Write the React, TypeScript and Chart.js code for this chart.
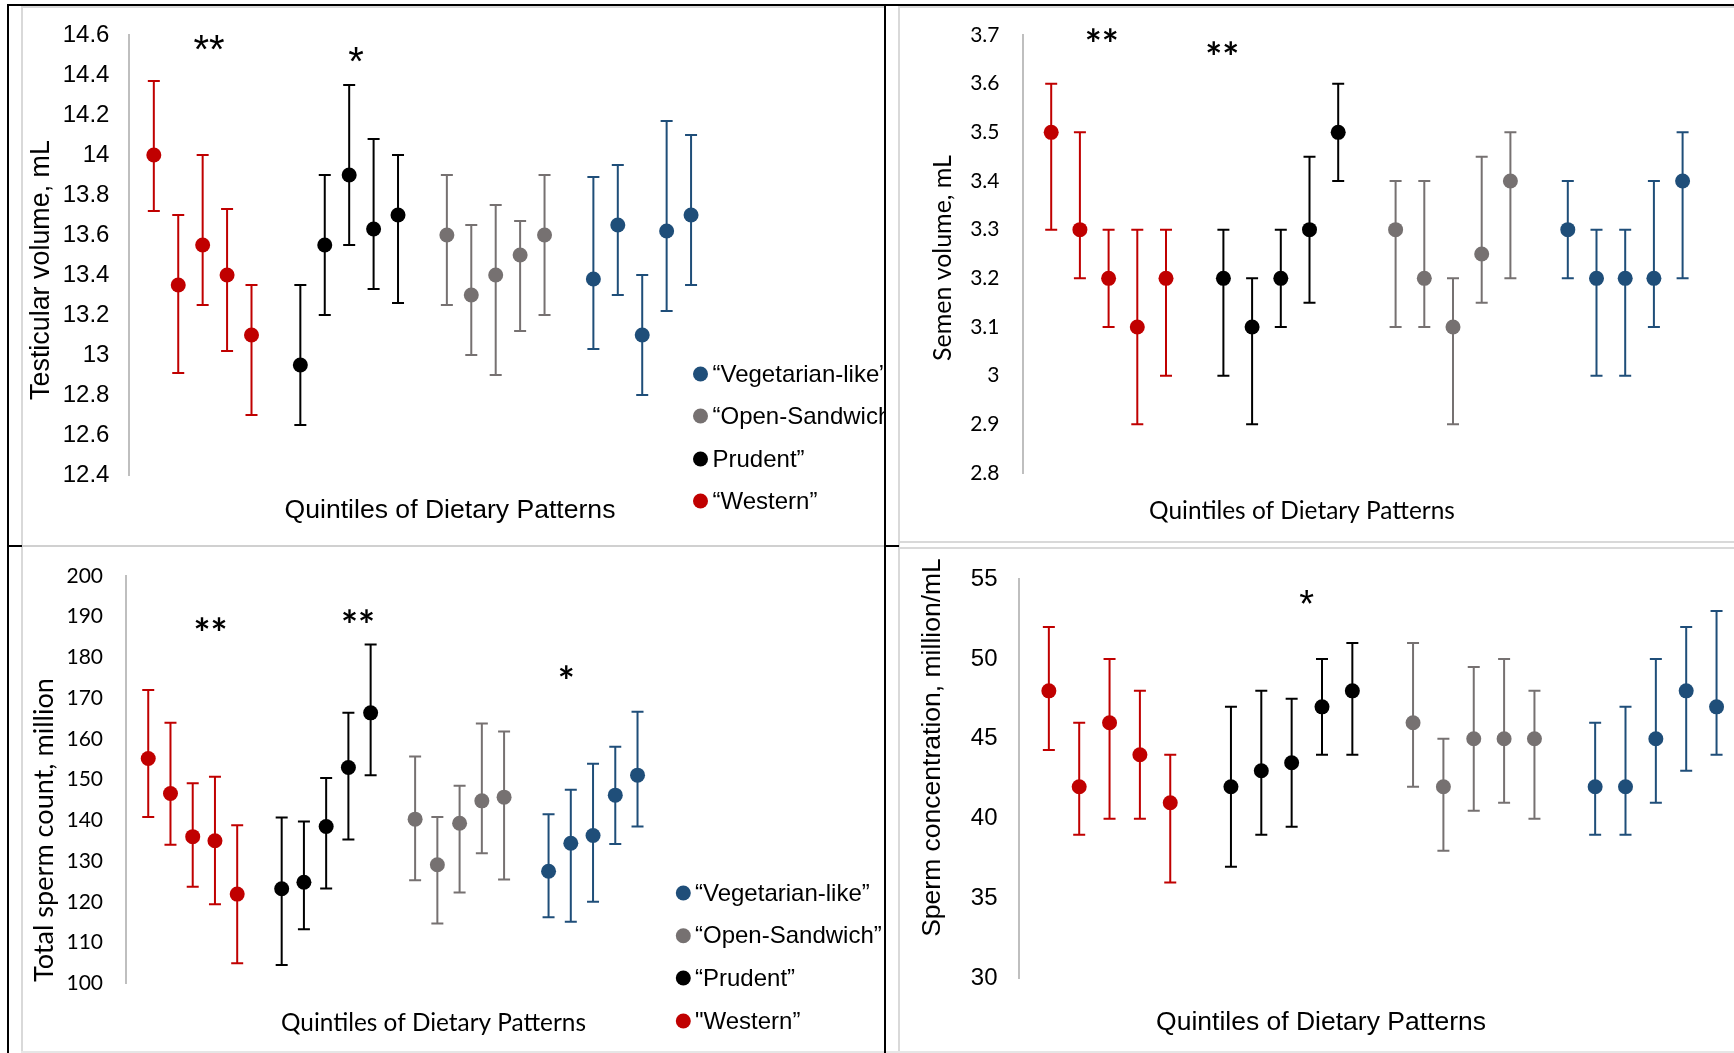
import React, { useEffect, useRef } from 'react';
import { Chart, registerables } from 'chart.js';

Chart.register(...registerables);

const RED = '#C00000';
const BLACK = '#000000';
const GRAY = '#767171';
const BLUE = '#1F4E79';

const ARIAL = '"Liberation Sans", Arial, sans-serif';
const CALIBRI = 'Lato, "Liberation Sans", sans-serif';

// Quintile slots on the x axis (four groups of five)
const westernX = [0, 1, 2, 3, 4];
const prudentX = [6, 7, 8, 9, 10];
const sandwichX = [12, 13, 14, 15, 16];
const vegX = [18, 19, 20, 21, 22];

// ---- Panel A: Testicular volume, mL ----
const testisTicks = [12.4, 12.6, 12.8, 13, 13.2, 13.4, 13.6, 13.8, 14, 14.2, 14.4, 14.6];
const testisWesternMean = [14.0, 13.35, 13.55, 13.4, 13.1];
const testisWesternLow = [13.72, 12.91, 13.25, 13.02, 12.7];
const testisWesternHigh = [14.37, 13.7, 14.0, 13.73, 13.35];
const testisPrudentMean = [12.95, 13.55, 13.9, 13.63, 13.7];
const testisPrudentLow = [12.65, 13.2, 13.55, 13.33, 13.26];
const testisPrudentHigh = [13.35, 13.9, 14.35, 14.08, 14.0];
const testisSandwichMean = [13.6, 13.3, 13.4, 13.5, 13.6];
const testisSandwichLow = [13.25, 13.0, 12.9, 13.12, 13.2];
const testisSandwichHigh = [13.9, 13.65, 13.75, 13.67, 13.9];
const testisVegMean = [13.38, 13.65, 13.1, 13.62, 13.7];
const testisVegLow = [13.03, 13.3, 12.8, 13.22, 13.35];
const testisVegHigh = [13.89, 13.95, 13.4, 14.17, 14.1];
const testisStars = [
  { text: '**', x: 2.26, y: 14.552 },
  { text: '*', x: 8.28, y: 14.493 },
];

// ---- Panel B: Semen volume, mL ----
const semenTicks = [2.8, 2.9, 3, 3.1, 3.2, 3.3, 3.4, 3.5, 3.6, 3.7];
const semenWesternMean = [3.5, 3.3, 3.2, 3.1, 3.2];
const semenWesternLow = [3.3, 3.2, 3.1, 2.9, 3.0];
const semenWesternHigh = [3.6, 3.5, 3.3, 3.3, 3.3];
const semenPrudentMean = [3.2, 3.1, 3.2, 3.3, 3.5];
const semenPrudentLow = [3.0, 2.9, 3.1, 3.15, 3.4];
const semenPrudentHigh = [3.3, 3.2, 3.3, 3.45, 3.6];
const semenSandwichMean = [3.3, 3.2, 3.1, 3.25, 3.4];
const semenSandwichLow = [3.1, 3.1, 2.9, 3.15, 3.2];
const semenSandwichHigh = [3.4, 3.4, 3.2, 3.45, 3.5];
const semenVegMean = [3.3, 3.2, 3.2, 3.2, 3.4];
const semenVegLow = [3.2, 3.0, 3.0, 3.1, 3.2];
const semenVegHigh = [3.4, 3.3, 3.3, 3.4, 3.5];
const semenStars = [
  { text: '**', x: 1.76, y: 3.698 },
  { text: '**', x: 5.96, y: 3.672 },
];

// ---- Panel C: Total sperm count, million ----
const countTicks = [100, 110, 120, 130, 140, 150, 160, 170, 180, 190, 200];
const countWesternMean = [155.2, 146.6, 136, 135, 121.9];
const countWesternLow = [140.8, 134, 123.7, 119.4, 104.9];
const countWesternHigh = [172, 164, 149.1, 150.7, 138.8];
const countPrudentMean = [123.2, 124.8, 138.5, 153, 166.4];
const countPrudentLow = [104.5, 113.3, 123.3, 135.3, 151.1];
const countPrudentHigh = [140.7, 139.7, 150.4, 166.4, 183.2];
const countSandwichMean = [140.3, 129.1, 139.3, 144.8, 145.7];
const countSandwichLow = [125.3, 114.7, 122.3, 131.9, 125.5];
const countSandwichHigh = [155.7, 140.8, 148.5, 163.8, 161.8];
const countVegMean = [127.5, 134.4, 136.3, 146.2, 151.1];
const countVegLow = [116.2, 115.1, 120, 134.2, 138.5];
const countVegHigh = [141.5, 147.5, 153.9, 158.1, 166.7];
const countStars = [
  { text: '**', x: 2.8, y: 188 },
  { text: '**', x: 9.43, y: 190 },
  { text: '*', x: 18.8, y: 176.3 },
];

// ---- Panel D: Sperm concentration, million/mL ----
const concTicks = [30, 35, 40, 45, 50, 55];
const concWesternMean = [48, 42, 46, 44, 41];
const concWesternLow = [44.3, 39, 40, 40, 36];
const concWesternHigh = [52, 46, 50, 48, 44];
const concPrudentMean = [42, 43, 43.5, 47, 48];
const concPrudentLow = [37, 39, 39.5, 44, 44];
const concPrudentHigh = [47, 48, 47.5, 50, 51];
const concSandwichMean = [46, 42, 45, 45, 45];
const concSandwichLow = [42, 38, 40.5, 41, 40];
const concSandwichHigh = [51, 45, 49.5, 50, 48];
const concVegMean = [42, 42, 45, 48, 47];
const concVegLow = [39, 39, 41, 43, 44];
const concVegHigh = [46, 47, 50, 52, 53];
const concStars = [{ text: '*', x: 8.49, y: 53.81 }];

// Legend labels (top to bottom)
const legendLabelsA = ['“Vegetarian-like”', '“Open-Sandwich”', 'Prudent”', '“Western”'];
const legendLabelsC = ['“Vegetarian-like”', '“Open-Sandwich”', '“Prudent”', '"Western”'];
const legendColors = [BLUE, GRAY, BLACK, RED];

const xTitle = 'Quintiles of Dietary Patterns';

type Series = { label: string; color: string; x: number[]; mean: number[]; low: number[]; high: number[] };

function makeSeries(
  w: number[][], p: number[][], s: number[][], v: number[][]
): Series[] {
  return [
    { label: 'Western', color: RED, x: westernX, mean: w[0], low: w[1], high: w[2] },
    { label: 'Prudent', color: BLACK, x: prudentX, mean: p[0], low: p[1], high: p[2] },
    { label: 'Open-Sandwich', color: GRAY, x: sandwichX, mean: s[0], low: s[1], high: s[2] },
    { label: 'Vegetarian-like', color: BLUE, x: vegX, mean: v[0], low: v[1], high: v[2] },
  ];
}

type PanelSpec = {
  left: number; top: number; w: number; h: number;
  axisX: number; spacing: number; xMax: number; areaTop: number; areaBottom: number;
  ticks: number[]; tickFont: string; tickSize: number; tickPad: number;
  series: Series[];
  stars: { text: string; x: number; y: number }[]; starFont: string; starSize: number; starLift: number;
  yTitle: { text: string; x: number; y: number; width: number; family: string };
  xTitleSpec: { x: number; y: number; width: number; family: string };
  legend?: { labels: string[]; mx: number; tx: number; ys: number[]; size: number };
};

const panels: PanelSpec[] = [
  {
    left: 22, top: 7, w: 862, h: 538,
    axisX: 107.4, spacing: 24.42, xMax: 24, areaTop: 28, areaBottom: 468,
    ticks: testisTicks, tickFont: ARIAL, tickSize: 24, tickPad: 20,
    series: makeSeries(
      [testisWesternMean, testisWesternLow, testisWesternHigh],
      [testisPrudentMean, testisPrudentLow, testisPrudentHigh],
      [testisSandwichMean, testisSandwichLow, testisSandwichHigh],
      [testisVegMean, testisVegLow, testisVegHigh]
    ),
    stars: testisStars, starFont: ARIAL, starSize: 40, starLift: 0.47,
    yTitle: { text: 'Testicular volume, mL', x: 20, y: 263, width: 260, family: ARIAL },
    xTitleSpec: { x: 428, y: 504, width: 331, family: ARIAL },
    legend: { labels: legendLabelsA, mx: 678.5, tx: 690.5, ys: [367, 409, 452, 494], size: 24 },
  },
  {
    left: 900, top: 7, w: 834, h: 535,
    axisX: 122.5, spacing: 28.7, xMax: 23, areaTop: 28, areaBottom: 466,
    ticks: semenTicks, tickFont: CALIBRI, tickSize: 21, tickPad: 23,
    series: makeSeries(
      [semenWesternMean, semenWesternLow, semenWesternHigh],
      [semenPrudentMean, semenPrudentLow, semenPrudentHigh],
      [semenSandwichMean, semenSandwichLow, semenSandwichHigh],
      [semenVegMean, semenVegLow, semenVegHigh]
    ),
    stars: semenStars, starFont: 'bold 40px ' + CALIBRI, starSize: 40, starLift: 0.58,
    yTitle: { text: 'Semen volume, mL', x: 43, y: 251, width: 206, family: CALIBRI },
    xTitleSpec: { x: 402, y: 504, width: 306, family: CALIBRI },
  },
  {
    left: 22, top: 547, w: 862, h: 505,
    axisX: 104, spacing: 22.24, xMax: 24, areaTop: 29, areaBottom: 436.3,
    ticks: countTicks, tickFont: CALIBRI, tickSize: 21, tickPad: 23,
    series: makeSeries(
      [countWesternMean, countWesternLow, countWesternHigh],
      [countPrudentMean, countPrudentLow, countPrudentHigh],
      [countSandwichMean, countSandwichLow, countSandwichHigh],
      [countVegMean, countVegLow, countVegHigh]
    ),
    stars: countStars, starFont: 'bold 40px ' + CALIBRI, starSize: 40, starLift: 0.58,
    yTitle: { text: 'Total sperm count, million', x: 22, y: 283, width: 304, family: CALIBRI },
    xTitleSpec: { x: 411.5, y: 476, width: 305, family: CALIBRI },
    legend: { labels: legendLabelsC, mx: 661.3, tx: 673, ys: [346, 388.7, 431, 474], size: 24 },
  },
  {
    left: 900, top: 548, w: 834, h: 504,
    axisX: 118.5, spacing: 30.35, xMax: 22, areaTop: 31, areaBottom: 430.5,
    ticks: concTicks, tickFont: ARIAL, tickSize: 24, tickPad: 21,
    series: makeSeries(
      [concWesternMean, concWesternLow, concWesternHigh],
      [concPrudentMean, concPrudentLow, concPrudentHigh],
      [concSandwichMean, concSandwichLow, concSandwichHigh],
      [concVegMean, concVegLow, concVegHigh]
    ),
    stars: concStars, starFont: ARIAL, starSize: 38, starLift: 0.5,
    yTitle: { text: 'Sperm concentration, million/mL', x: 33, y: 199.5, width: 379, family: ARIAL },
    xTitleSpec: { x: 421, y: 474.7, width: 330, family: ARIAL },
  },
];

function fmtTick(v: number): string {
  return String(Math.round(v * 10) / 10);
}

function drawText(
  ctx: CanvasRenderingContext2D, text: string, x: number, y: number,
  family: string, size: number, width?: number, rotate?: number
) {
  ctx.save();
  ctx.font = `${size}px ${family}`;
  if (width) {
    const m = ctx.measureText(text).width;
    const s = (size * width) / m;
    ctx.font = `${s}px ${family}`;
  }
  ctx.fillStyle = '#000';
  ctx.textAlign = 'center';
  ctx.textBaseline = 'middle';
  ctx.translate(x, y);
  if (rotate) ctx.rotate(rotate);
  ctx.fillText(text, 0, 0);
  ctx.restore();
}

function buildConfig(spec: PanelSpec): any {
  const areaRight = spec.axisX + (spec.xMax + 1) * spec.spacing;
  const datasets = spec.series.map((s) => ({
    label: s.label,
    data: s.x.map((x, i) => ({ x, y: s.mean[i] })),
    backgroundColor: s.color,
    borderColor: s.color,
    pointBackgroundColor: s.color,
    pointRadius: 7.5,
    pointHoverRadius: 7.5,
    pointBorderWidth: 0,
    showLine: false,
    clip: false,
  }));

  const overlay = {
    id: 'overlay',
    beforeDatasetsDraw(chart: any) {
      const ctx: CanvasRenderingContext2D = chart.ctx;
      const xs = chart.scales.x;
      const ys = chart.scales.y;
      const cap = 6;
      spec.series.forEach((s) => {
        ctx.save();
        ctx.strokeStyle = s.color;
        ctx.lineWidth = 2;
        s.x.forEach((xv, i) => {
          const px = xs.getPixelForValue(xv);
          const pl = ys.getPixelForValue(s.low[i]);
          const ph = ys.getPixelForValue(s.high[i]);
          ctx.beginPath();
          ctx.moveTo(px, pl);
          ctx.lineTo(px, ph);
          ctx.moveTo(px - cap, pl);
          ctx.lineTo(px + cap, pl);
          ctx.moveTo(px - cap, ph);
          ctx.lineTo(px + cap, ph);
          ctx.stroke();
        });
        ctx.restore();
      });
    },
    afterDraw(chart: any) {
      const ctx: CanvasRenderingContext2D = chart.ctx;
      const xs = chart.scales.x;
      const ys = chart.scales.y;
      // axis titles
      drawText(ctx, spec.yTitle.text, spec.yTitle.x, spec.yTitle.y, spec.yTitle.family, 26, spec.yTitle.width, -Math.PI / 2);
      drawText(ctx, xTitle, spec.xTitleSpec.x, spec.xTitleSpec.y, spec.xTitleSpec.family, 26, spec.xTitleSpec.width);
      // significance stars
      spec.stars.forEach((st) => {
        ctx.save();
        ctx.font = spec.starFont.startsWith('bold') ? spec.starFont : `${spec.starSize}px ${spec.starFont}`;
        ctx.fillStyle = '#000';
        ctx.textAlign = 'center';
        ctx.textBaseline = 'alphabetic';
        const px = xs.getPixelForValue(st.x);
        const py = ys.getPixelForValue(st.y);
        ctx.fillText(st.text, px, py + spec.starLift * spec.starSize);
        ctx.restore();
      });
      // legend
      if (spec.legend) {
        const lg = spec.legend;
        lg.labels.forEach((lab, i) => {
          ctx.save();
          ctx.fillStyle = legendColors[i];
          ctx.beginPath();
          ctx.arc(lg.mx, lg.ys[i], 7.5, 0, Math.PI * 2);
          ctx.fill();
          ctx.fillStyle = '#000';
          ctx.font = `${lg.size}px ${ARIAL}`;
          ctx.textAlign = 'left';
          ctx.textBaseline = 'middle';
          ctx.fillText(lab, lg.tx, lg.ys[i] + 1);
          ctx.restore();
        });
      }
    },
  };

  return {
    type: 'scatter',
    data: { datasets },
    options: {
      responsive: false,
      animation: false,
      devicePixelRatio: 1,
      events: [],
      layout: {
        padding: {
          left: 0,
          top: spec.areaTop,
          right: spec.w - areaRight,
          bottom: spec.h - spec.areaBottom,
        },
      },
      plugins: {
        legend: { display: false },
        tooltip: { enabled: false },
      },
      scales: {
        x: { type: 'linear', min: -1, max: spec.xMax, display: false },
        y: {
          type: 'linear',
          min: spec.ticks[0],
          max: spec.ticks[spec.ticks.length - 1],
          afterBuildTicks: (scale: any) => {
            scale.ticks = spec.ticks.map((v) => ({ value: v }));
          },
          afterFit: (scale: any) => {
            scale.width = spec.axisX;
            scale.paddingTop = 0;
            scale.paddingBottom = 0;
          },
          grid: { display: false, drawTicks: false },
          border: { display: true, color: '#BFBFBF', width: 2 },
          ticks: {
            padding: spec.tickPad,
            color: '#000',
            font: { family: spec.tickFont, size: spec.tickSize },
            callback: (v: any) => fmtTick(Number(v)),
          },
          title: { display: false },
        },
      },
    },
    plugins: [overlay],
  };
}

function Panel({ spec }: { spec: PanelSpec }) {
  const ref = useRef<HTMLCanvasElement>(null);
  useEffect(() => {
    const canvas = ref.current;
    if (!canvas) return;
    const chart = new Chart(canvas, buildConfig(spec));
    return () => chart.destroy();
  }, [spec]);
  return (
    <canvas
      ref={ref}
      width={spec.w}
      height={spec.h}
      style={{ position: 'absolute', left: spec.left, top: spec.top, width: spec.w, height: spec.h }}
    />
  );
}

const frameLines = [
  // light grey inner frames
  { l: 21, t: 6, w: 863, h: 2, c: '#D9D9D9' },
  { l: 21, t: 6, w: 2, h: 1047, c: '#D9D9D9' },
  { l: 898, t: 6, w: 836, h: 2, c: '#D9D9D9' },
  { l: 898, t: 6, w: 2, h: 1047, c: '#D9D9D9' },
  { l: 898, t: 541, w: 836, h: 2, c: '#D9D9D9' },
  { l: 21, t: 545, w: 863, h: 2, c: '#D0D0D0' },
  { l: 898, t: 547, w: 836, h: 2, c: '#D9D9D9' },
  { l: 21, t: 1051, w: 1713, h: 2, c: '#E6E6E6' },
  // black outer frame
  { l: 7, t: 4, w: 1727, h: 2, c: '#000' },
  { l: 7, t: 4, w: 2, h: 1049, c: '#000' },
  { l: 884, t: 4, w: 2, h: 1049, c: '#000' },
  { l: 7, t: 545, w: 15, h: 2, c: '#000' },
  { l: 884, t: 545, w: 15, h: 2, c: '#000' },
];

export default function App() {
  return (
    <div
      style={{
        position: 'absolute', left: 0, top: 0, width: 1734, height: 1053,
        background: '#fff', overflow: 'hidden',
      }}
    >
      {panels.map((p, i) => (
        <Panel key={i} spec={p} />
      ))}
      {frameLines.map((f, i) => (
        <div
          key={'f' + i}
          style={{ position: 'absolute', left: f.l, top: f.t, width: f.w, height: f.h, background: f.c }}
        />
      ))}
    </div>
  );
}
